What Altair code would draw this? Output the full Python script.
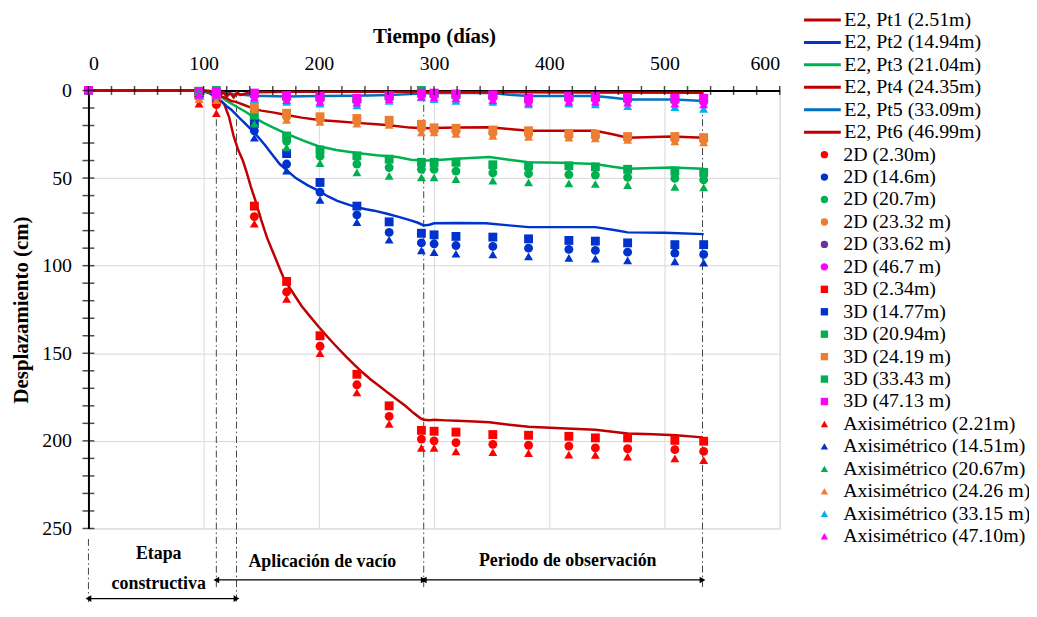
import altair as alt
import pandas as pd

# ---------------- measured lines (E2) ----------------
line_names = ["E2, Pt1 (2.51m)", "E2, Pt2 (14.94m)", "E2, Pt3 (21.04m)",
              "E2, Pt4 (24.35m)", "E2, Pt5 (33.09m)", "E2, Pt6 (46.99m)"]
line_colors = ["#C00000", "#0033CC", "#00B050", "#C00000", "#0070C0", "#C00000"]

pt1_days = [0, 50, 95, 100, 105, 111, 115, 118, 122, 126, 130, 134, 137, 141, 145, 150, 155, 160, 165, 170,
            178, 185, 193, 200, 208, 215, 223, 230, 238, 245, 253, 260, 268, 275, 282, 288, 291, 296, 300,
            310, 320, 335, 348, 365, 382, 410, 440, 455, 468, 490, 510, 533]
pt1_vals = [0, 0, 0, 0.5, 1.5, 3, 6, 8, 15, 26, 34, 40, 46, 55, 63, 74, 84, 92, 100, 108,
            116, 123, 129.5, 135, 141, 146, 151.5, 156, 161, 165, 169, 172.6, 176.5, 180, 184, 187, 188, 188.2, 188,
            188.3, 188.5, 189, 189.4, 190.8, 192, 192.8, 193.6, 194.8, 195.8, 196.2, 196.8, 198]

pt2_days = [0, 95, 100, 105, 111, 116, 120, 124, 130, 137, 144, 153, 160, 166, 173, 180, 190, 199, 208, 216,
            225, 233, 241, 248, 260, 270, 279, 286, 291, 296, 300, 320, 345, 365, 382, 410, 440, 455, 468, 500, 534]
pt2_vals = [0, 0, 0.5, 1.5, 4, 6.5, 9, 11, 15, 19.5, 24, 31, 37, 42, 46, 50, 54, 57, 60.5, 63,
            65, 66.7, 67.8, 68.6, 70.5, 72.3, 74, 75.5, 77, 76.6, 75.8, 75.6, 75.8, 77, 78, 78, 78, 79.5, 81, 81.2, 82]

pt3_days = [0, 95, 100, 105, 111, 116, 120, 128, 136, 144, 152, 160, 173, 186, 199, 215, 233, 250, 268, 280,
            291, 300, 319, 348, 365, 382, 410, 440, 455, 468, 506, 534]
pt3_vals = [0, 0, 0.3, 1, 2, 4, 6, 9, 12, 15.5, 18.5, 21, 25, 28.5, 31.7, 34, 35.7, 37, 38, 39.5,
            40, 39.8, 39, 38, 39.5, 41, 41.3, 42, 43.5, 44.7, 44, 44.7]

pt4_days = [0, 95, 105, 111, 116, 120, 124, 128, 134, 140, 144, 150, 160, 172, 185, 200, 215, 233, 250, 261,
            279, 291, 300, 319, 348, 365, 382, 410, 440, 455, 468, 506, 534]
pt4_vals = [0, 0, 0.5, 2, 3.5, 4.5, 6, 6.5, 8, 9.5, 10.5, 11.5, 12.5, 14, 15.5, 16.8, 17.6, 18.5, 19.3, 19.8,
            21.2, 21.6, 21.4, 21.2, 21, 22, 23, 23, 23, 25, 27, 26.3, 27]

pt5_days = [0, 95, 105, 111, 118, 128, 144, 172, 201, 233, 261, 289, 300, 350, 365, 382, 440, 455, 468, 509, 534]
pt5_vals = [0, 0, 0.3, 1, 1.5, 2.2, 3, 3.5, 3.2, 3, 2.6, 1.8, 1.5, 1.4, 2.5, 3.2, 3.2, 4.2, 5.1, 5.1, 6]

pt6_days = [0, 95, 105, 111, 114, 117, 120, 123, 126, 129, 132, 140, 172, 233, 289, 350, 440, 534]
pt6_vals = [0, 0, 0.3, 1, 3, 1, 3.5, 1.5, 4, 1.2, 2.5, 1, 0.8, 0.8, 0.8, 1, 1.2, 1.3]

# ---------------- numerical results ----------------
pt_days = [0, 96, 111, 144, 172, 201, 233, 261, 289, 300, 319, 351, 382, 417, 440, 468, 509, 534]

pt_names = ["2D (2.30m)", "2D (14.6m)", "2D (20.7m)", "2D (23.32 m)", "2D (33.62 m)", "2D (46.7 m)",
            "3D (2.34m)", "3D (14.77m)", "3D (20.94m)", "3D (24.19 m)", "3D (33.43 m)", "3D (47.13 m)",
            "Axisimétrico (2.21m)", "Axisimétrico (14.51m)", "Axisimétrico (20.67m)",
            "Axisimétrico (24.26 m)", "Axisimétrico (33.15 m)", "Axisimétrico (47.10m)"]
pt_colors = ["#FF0000", "#0033CC", "#00B050", "#ED7D31", "#7030A0", "#FF00FF",
             "#FF0000", "#0033CC", "#00B050", "#ED7D31", "#00B050", "#FF00FF",
             "#FF0000", "#0033CC", "#00B050", "#ED7D31", "#00B0F0", "#FF00FF"]
pt_shapes = ["circle"] * 6 + ["square"] * 6 + ["triangle-up"] * 6

r2 = [0, 3, 8, 72, 115, 146, 168, 186, 199, 200, 201, 202, 202.5, 203, 204, 204.5, 205, 206]
b2 = [0, 1, 3, 23, 42, 58, 71, 81, 87, 87.5, 88.5, 89, 90, 90.7, 91.3, 92.3, 92.8, 93.6]
g2 = [0, 0.5, 2, 16.5, 29, 37.5, 42, 44, 45, 45, 46, 47, 47.5, 48, 48.3, 49.6, 50.2, 51]
o2 = [0, 4, 4.5, 10, 15, 16.5, 17.7, 18.5, 21.8, 22.8, 23.3, 24.4, 25, 26, 26.3, 27.4, 27.8, 28.4]
p2 = [0, 1.5, 1.5, 2.5, 4, 4.5, 5.5, 3.5, 2, 2.5, 3, 3.5, 5.5, 4.5, 4.5, 5, 5.5, 6]
m2 = [0, 2, 2, 3, 4.5, 5, 6, 4, 2.5, 3, 3.5, 4, 6, 5, 5, 5.5, 6, 6.5]

r3 = [0, 2, 6, 66, 109, 140, 162, 180, 194, 194.5, 195, 196.4, 196.8, 197.4, 198.3, 198.3, 199.7, 200.2]
b3 = [0, 0.5, 2, 19, 36, 52.5, 66, 75, 81.5, 82.4, 83.3, 83.7, 84.7, 85.6, 86, 87, 88, 88]
g3 = [0, 0.5, 1, 14, 26, 34, 37.3, 39.2, 41, 41, 41, 42.4, 43, 43, 43.6, 45, 46, 46.8]
o3 = [0, 3, 3.5, 9, 13, 15, 16, 17, 19.3, 21.3, 21.6, 22.6, 23, 24.5, 25, 26.3, 26.3, 26.9]
g3b = [0, 1.3, 0, 1.8, 3.3, 3.8, 4.8, 3.3, 0, 1.8, 2.3, 2.8, 4.8, 3.8, 3.8, 4.3, 4.8, 4.8]
m3 = [0, 1, 1, 1.5, 3, 3.5, 4.5, 3, 1.5, 1.5, 2, 2.5, 4.5, 3.5, 3.5, 4, 4.5, 4.5]

ra = [0, 7.5, 13, 76, 119, 150, 172.4, 190.3, 204, 204, 206, 206.5, 207, 207.8, 208, 209, 210, 211]
ba = [0, 1.5, 4, 27, 45.8, 62.5, 75.2, 85.2, 91.3, 92.3, 93.2, 93.6, 94.7, 95.5, 96, 97, 97.6, 98.3]
ga = [0, 1, 3, 19, 32.5, 41.5, 46.8, 48.7, 49.6, 49.6, 50.6, 51.5, 52.5, 53, 53.4, 54, 55, 55.3]
oa = [0, 5, 5.5, 11, 16.8, 18, 19, 19.7, 24, 24, 24.8, 25.9, 26.5, 27, 27.3, 28.2, 29.1, 29.7]
ca = [0, 3, 3, 5, 6.5, 7.5, 8.5, 6, 4, 5, 6, 6.5, 8, 7.5, 8, 9, 9.5, 10.5]
ma = [0, 2.5, 2.5, 4, 5.5, 6.5, 7, 5, 3.5, 4, 4.5, 5.5, 7, 6.5, 6.5, 7, 7.5, 8]

# ---------------- stage annotations ----------------
stage_line_days = [0, 111, 128.5, 291, 533]
stage_line_top = [256, 0, 0, 0, 0]
stage_line_bot = [292, 285, 292, 284, 284]

arrow_start = [0, 111, 291]
arrow_end = [128.5, 291, 533]
arrow_level = [290, 279.4, 279.4]

stage_texts = ["Etapa", "constructiva", "Aplicación de vacío", "Periodo de observación"]
stage_text_day = [61, 61, 203, 416]
stage_text_level = [264.5, 282, 269, 268.6]

x_ticks = list(range(0, 601, 20))
y_ticks = list(range(0, 251, 10))

# ---------------- tables ----------------
line_rows = []
for name, d, v in zip(line_names,
                      [pt1_days, pt2_days, pt3_days, pt4_days, pt5_days, pt6_days],
                      [pt1_vals, pt2_vals, pt3_vals, pt4_vals, pt5_vals, pt6_vals]):
    for dd, vv in zip(d, v):
        line_rows.append({"day": dd, "val": vv, "serie": name})
line_df = pd.DataFrame(line_rows)

pt_series = [r2, b2, g2, o2, p2, m2, r3, b3, g3, o3, g3b, m3, ra, ba, ga, oa, ca, ma]
pt_rows = []
for k, (name, vals) in enumerate(zip(pt_names, pt_series)):
    for j, (dd, vv) in enumerate(zip(pt_days, vals)):
        pt_rows.append({"day": dd, "val": vv, "modelo": name, "ord": k})
pt_df = pd.DataFrame(pt_rows)

vline_df = pd.DataFrame({"day": stage_line_days, "val": stage_line_top, "val2": stage_line_bot})
arrow_df = pd.DataFrame({"day": arrow_start, "day2": arrow_end, "val": arrow_level})
head_l = pd.DataFrame({"day": arrow_start, "val": arrow_level})
head_r = pd.DataFrame({"day": arrow_end, "val": arrow_level})
text_df = pd.DataFrame({"day": stage_text_day, "val": stage_text_level, "txt": stage_texts})
xt_df = pd.DataFrame({"day": x_ticks, "val": [0] * len(x_ticks)})
yt_df = pd.DataFrame({"day": [0] * len(y_ticks), "val": y_ticks})

# ---------------- scales / axes ----------------
FONT = "Liberation Serif"
xs = alt.Scale(domain=[0, 600], nice=False, zero=False)
ys = alt.Scale(domain=[0, 250], reverse=True, nice=False, zero=False)

x_axis = alt.Axis(orient="top", values=[0, 100, 200, 300, 400, 500, 600], title="Tiempo (días)",
                  grid=True, gridColor="#d9d9d9", gridWidth=1, ticks=False, tickSize=0,
                  domainColor="black", domainWidth=2, labelFontSize=20, labelFont=FONT,
                  labelColor="black", labelPadding=17, titleFont=FONT, titleFontSize=21,
                  titleFontWeight="bold", titleColor="black", titlePadding=7)
y_axis = alt.Axis(values=[0, 50, 100, 150, 200, 250], title="Desplazamiento (cm)",
                  grid=True, gridColor="#d9d9d9", gridWidth=1, ticks=False, tickSize=0,
                  domainColor="black", domainWidth=2, labelFontSize=20, labelFont=FONT,
                  labelColor="black", labelPadding=17, titleFont=FONT, titleFontSize=21,
                  titleFontWeight="bold", titleColor="black", titlePadding=10)


def X(field="day"):
    return alt.X(f"{field}:Q", scale=xs, axis=x_axis)


def Y(field="val"):
    return alt.Y(f"{field}:Q", scale=ys, axis=y_axis)


vlines = alt.Chart(vline_df).mark_rule(color="#444444", strokeWidth=1,
                                       strokeDash=[7, 3, 1.5, 3]).encode(
    x=X(), y=Y(), y2="val2:Q")

lines = alt.Chart(line_df).mark_line(strokeWidth=2.5).encode(
    x=X(), y=Y(),
    color=alt.Color("serie:N", scale=alt.Scale(domain=line_names, range=line_colors),
                    legend=alt.Legend(title=None, orient="none", legendX=719, legendY=-81,
                                      symbolType="stroke", symbolSize=1369, symbolStrokeWidth=3,
                                      clipHeight=20,
                                      labelFontSize=20, labelFont=FONT, labelColor="black",
                                      labelOffset=2, rowPadding=2.6, labelLimit=400, padding=0)),
)

pt_legend = alt.Legend(title=None, orient="none", legendX=731, legendY=54.6,
                       symbolSize=55, symbolStrokeWidth=0,
                       labelFontSize=20, labelFont=FONT, labelColor="black",
                       symbolOffset=0, labelOffset=9, rowPadding=2.6, labelLimit=400, padding=0)

points = alt.Chart(pt_df).mark_point(filled=True, size=80, opacity=1).encode(
    x=X(), y=Y(),
    color=alt.Color("modelo:N", scale=alt.Scale(domain=pt_names, range=pt_colors), legend=pt_legend),
    shape=alt.Shape("modelo:N", scale=alt.Scale(domain=pt_names, range=pt_shapes), legend=pt_legend),
    order=alt.Order("ord:Q"),
)

xticks = alt.Chart(xt_df).mark_tick(orient="vertical", size=9, thickness=1.5, color="black").encode(
    x=X(), y=Y())
yticks = alt.Chart(yt_df).mark_tick(orient="horizontal", size=12, thickness=1.5, color="black").encode(
    x=X(), y=Y())

arrows = alt.Chart(arrow_df).mark_rule(color="black", strokeWidth=1.3).encode(
    x=X(), x2="day2:Q", y=Y())
heads_l = alt.Chart(head_l).mark_point(shape="triangle-left", filled=True, size=45, color="black",
                                       opacity=1).encode(x=X(), y=Y())
heads_r = alt.Chart(head_r).mark_point(shape="triangle-right", filled=True, size=45, color="black",
                                       opacity=1).encode(x=X(), y=Y())
texts = alt.Chart(text_df).mark_text(font=FONT, fontSize=18, fontWeight="bold", color="black").encode(
    x=X(), y=Y(), text="txt:N")

chart = alt.layer(vlines, lines, points, xticks, yticks, arrows, heads_l, heads_r, texts).resolve_scale(
    color="independent", shape="independent"
).properties(
    width=696, height=441,
    padding={"left": 81, "top": 81, "right": 251, "bottom": 72},
    autosize=alt.AutoSizeParams(type="none"),
).configure_view(stroke="black", strokeWidth=1.5).configure(background="white")

chart.save("out.html", embed_options={"renderer": "svg", "actions": False})
